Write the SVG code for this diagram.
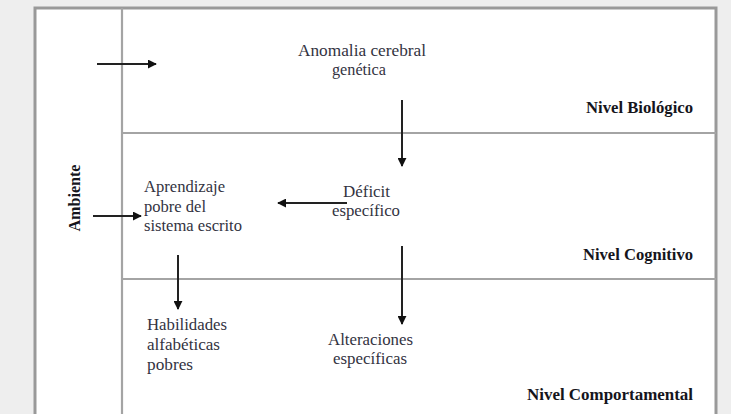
<svg xmlns="http://www.w3.org/2000/svg" width="731" height="414" viewBox="0 0 731 414">
<defs>
<marker id="ah" viewBox="0 0 10 10" refX="9" refY="5" markerWidth="4.5" markerHeight="4.5" orient="auto" markerUnits="strokeWidth">
<path d="M0,0 L10,5 L0,10 z" fill="#111"/>
</marker>
</defs>
<style>
.frame{fill:#fff;stroke:#999;stroke-width:3}
.div{stroke:#a4a4a4;stroke-width:2.2;fill:none}
.arr{stroke:#222;stroke-width:2;fill:none;marker-end:url(#ah)}
.t{font-family:"Liberation Serif","Times New Roman",serif;font-size:16px;fill:#33333f}
.b{font-family:"Liberation Serif","Times New Roman",serif;font-size:16px;font-weight:bold;fill:#15151c}
</style>
<rect x="0" y="0" width="731" height="414" fill="#eeeeee"/>
<rect class="frame" x="35" y="8" width="681" height="420"/>
<g id="dividers">
<line class="div" x1="122" y1="8" x2="122" y2="414"/>
<line class="div" x1="122" y1="133" x2="716" y2="133"/>
<line class="div" x1="122" y1="279" x2="716" y2="279"/>
</g>
<g id="ambiente"><text class="b" text-anchor="middle" transform="translate(80,198) rotate(-90)" textLength="67" lengthAdjust="spacingAndGlyphs">Ambiente</text></g>
<g id="nivel-biologico"><text class="b" x="586" y="113" textLength="107" lengthAdjust="spacingAndGlyphs">Nivel Biológico</text></g>
<g id="nivel-cognitivo"><text class="b" x="583" y="260" textLength="110" lengthAdjust="spacingAndGlyphs">Nivel Cognitivo</text></g>
<g id="nivel-comportamental"><text class="b" x="527" y="400" textLength="166" lengthAdjust="spacingAndGlyphs">Nivel Comportamental</text></g>
<g id="anomalia">
<text class="t" x="298" y="56" textLength="128" lengthAdjust="spacingAndGlyphs">Anomalia cerebral</text>
<text class="t" x="332" y="75" textLength="54" lengthAdjust="spacingAndGlyphs">genética</text>
</g>
<g id="deficit">
<text class="t" x="343" y="197" textLength="47" lengthAdjust="spacingAndGlyphs">Déficit</text>
<text class="t" x="332" y="216" textLength="68" lengthAdjust="spacingAndGlyphs">específico</text>
</g>
<g id="aprendizaje">
<text class="t" x="144" y="192" textLength="81" lengthAdjust="spacingAndGlyphs">Aprendizaje</text>
<text class="t" x="144" y="212" textLength="62" lengthAdjust="spacingAndGlyphs">pobre del</text>
<text class="t" x="144" y="231" textLength="98" lengthAdjust="spacingAndGlyphs">sistema escrito</text>
</g>
<g id="habilidades">
<text class="t" x="147" y="330" textLength="80" lengthAdjust="spacingAndGlyphs">Habilidades</text>
<text class="t" x="147" y="350" textLength="73" lengthAdjust="spacingAndGlyphs">alfabéticas</text>
<text class="t" x="147" y="370" textLength="46" lengthAdjust="spacingAndGlyphs">pobres</text>
</g>
<g id="alteraciones">
<text class="t" x="328" y="345" textLength="85" lengthAdjust="spacingAndGlyphs">Alteraciones</text>
<text class="t" x="333" y="364" textLength="74" lengthAdjust="spacingAndGlyphs">específicas</text>
</g>
<g id="connectors">
<line class="arr" x1="97" y1="64" x2="156" y2="64"/>
<line class="arr" x1="93" y1="216" x2="141" y2="216"/>
<line class="arr" x1="402" y1="100" x2="402" y2="166"/>
<line class="arr" x1="347" y1="203" x2="278" y2="203"/>
<line class="arr" x1="178" y1="255" x2="178" y2="309"/>
<line class="arr" x1="402" y1="246" x2="402" y2="324"/>
</g>
</svg>
